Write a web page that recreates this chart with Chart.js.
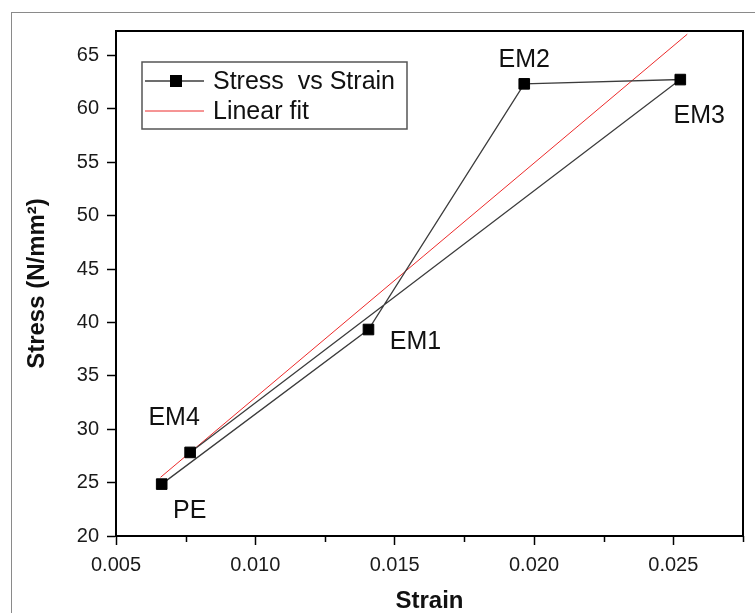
<!DOCTYPE html>
<html>
<head>
<meta charset="utf-8">
<script src="https://cdn.jsdelivr.net/npm/chart.js@4"></script>
<style>
  html, body { margin: 0; padding: 0; background: #fff; overflow: hidden; }
  #wrap { position: relative; width: 755px; height: 613px; }
  #frame { position: absolute; left: 11px; top: 12px; width: 800px; height: 700px; border: 1px solid #8a8a8a; }
  #chart { position: absolute; left: 0; top: 0; }
</style>
</head>
<body>
<div id="wrap">
  <div id="frame"></div>
  <canvas id="chart" width="755" height="613"></canvas>
</div>
<script>
// samples, in the order the line joins them
const sampleNames = ["PE", "EM1", "EM2", "EM3", "EM4"];
const strain = [0.00664, 0.01406, 0.01965, 0.02525, 0.00766];
const stress = [24.86, 39.34, 62.35, 62.75, 27.83];

// red fit line, end points
const fitStrain = [0.0066, 0.0255];
const fitStress = [25.5, 67.0];

const strainMinorTicks = [0.0075, 0.0125, 0.0175, 0.0225, 0.0275];

const FONT = "'Liberation Sans', Arial, sans-serif";

// label offsets from each marker, px
const labelOffsets = {
  PE: [28, 27],
  EM1: [47, 13],
  EM2: [0, -24],
  EM3: [19, 37],
  EM4: [-16, -34],
};

const framePlugin = {
  id: "frame",
  afterDraw(chart) {
    const { ctx, chartArea: a, scales } = chart;
    ctx.save();
    ctx.strokeStyle = "#000";
    ctx.lineWidth = 2;
    ctx.strokeRect(a.left, a.top, a.right - a.left, a.bottom - a.top);

    // minor ticks on strain axis
    ctx.lineWidth = 1.5;
    ctx.beginPath();
    strainMinorTicks.forEach((v) => {
      const px = Math.round(scales.x.getPixelForValue(v)) + 0.5;
      ctx.moveTo(px, a.bottom);
      ctx.lineTo(px, a.bottom + 6);
    });
    ctx.stroke();
    ctx.restore();
  },
};

const pointLabelPlugin = {
  id: "pointLabels",
  afterDatasetsDraw(chart) {
    const { ctx } = chart;
    const meta = chart.getDatasetMeta(0);
    ctx.save();
    ctx.font = `25px ${FONT}`;
    ctx.fillStyle = "#111";
    ctx.textAlign = "center";
    ctx.textBaseline = "middle";
    meta.data.forEach((pt, i) => {
      const name = sampleNames[i];
      const off = labelOffsets[name] || [0, -20];
      ctx.fillText(name, pt.x + off[0], pt.y + off[1]);
    });
    ctx.restore();
  },
};

const legendPlugin = {
  id: "boxLegend",
  afterDraw(chart) {
    const { ctx } = chart;
    const ds = chart.data.datasets;
    const box = { x: 142, y: 62, w: 265, h: 67 };
    ctx.save();
    ctx.fillStyle = "#fff";
    ctx.fillRect(box.x, box.y, box.w, box.h);
    ctx.strokeStyle = "#555";
    ctx.lineWidth = 1.5;
    ctx.strokeRect(box.x, box.y, box.w, box.h);

    ctx.font = `25px ${FONT}`;
    ctx.textBaseline = "middle";
    ds.forEach((d, i) => {
      const y = box.y + 19 + i * 30;
      ctx.strokeStyle = d.borderColor;
      ctx.lineWidth = d.borderWidth;
      ctx.beginPath();
      ctx.moveTo(box.x + 3, y);
      ctx.lineTo(box.x + 62, y);
      ctx.stroke();
      if (d.pointRadius > 0) {
        ctx.fillStyle = "#000";
        ctx.fillRect(box.x + 28, y - 6, 12, 12);
      }
      ctx.fillStyle = "#111";
      ctx.fillText(d.label, box.x + 71, y + 1);
    });
    ctx.restore();
  },
};

new Chart(document.getElementById("chart"), {
  type: "scatter",
  data: {
    datasets: [
      {
        label: "Stress  vs Strain",
        data: strain.map((x, i) => ({ x, y: stress[i] })),
        showLine: true,
        borderColor: "#3c3c3c",
        borderWidth: 1.3,
        pointStyle: "rect",
        pointRadius: 7.5,
        pointBorderWidth: 1,
        pointBackgroundColor: "#000",
        pointBorderColor: "#000",
        tension: 0,
      },
      {
        label: "Linear fit",
        data: fitStrain.map((x, i) => ({ x, y: fitStress[i] })),
        showLine: true,
        borderColor: "#ec2a2a",
        borderWidth: 1,
        pointRadius: 0,
        tension: 0,
      },
    ],
  },
  options: {
    responsive: false,
    animation: false,
    layout: { padding: { top: 31, right: 12, left: 0, bottom: 0 } },
    plugins: {
      legend: { display: false },
      tooltip: { enabled: false },
    },
    scales: {
      x: {
        type: "linear",
        min: 0.005,
        max: 0.0275,
        afterFit: (s) => { s.height = 77; },
        border: { color: "#000", width: 2 },
        grid: { drawOnChartArea: false, tickLength: 9, tickColor: "#000", tickWidth: 1.5 },
        ticks: {
          stepSize: 0.005,
          includeBounds: false,
          maxRotation: 0,
          padding: 8,
          color: "#1a1a1a",
          font: { family: FONT, size: 20 },
          callback: (v) => v.toFixed(3),
        },
        title: {
          display: true,
          text: "Strain",
          color: "#111",
          font: { family: FONT, size: 24, weight: "bold", lineHeight: 1 },
          padding: { top: 0, bottom: 0 },
        },
      },
      y: {
        min: 20,
        max: 67.3,
        afterFit: (s) => { s.width = 116; },
        border: { color: "#000", width: 2 },
        grid: { drawOnChartArea: false, tickLength: 9, tickColor: "#000", tickWidth: 1.5 },
        ticks: {
          stepSize: 5,
          includeBounds: false,
          padding: 8,
          color: "#1a1a1a",
          font: { family: FONT, size: 20 },
        },
        title: {
          display: true,
          text: "Stress (N/mm²)",
          color: "#111",
          font: { family: FONT, size: 24, weight: "bold", lineHeight: 1 },
          padding: { top: 25, bottom: 0 },
        },
      },
    },
  },
  plugins: [framePlugin, pointLabelPlugin, legendPlugin],
});
</script>
</body>
</html>
